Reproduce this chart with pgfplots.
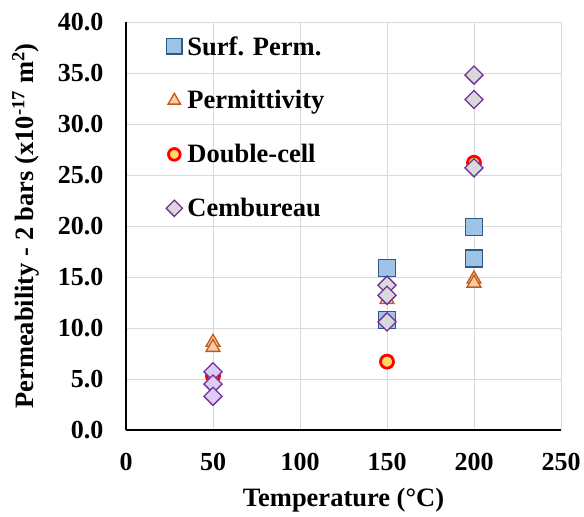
\documentclass[border=0pt]{standalone}
\usepackage{pgfplots}
\pgfplotsset{compat=1.18}
\usepackage{fontspec}
\setmainfont{Liberation Serif}
\definecolor{sqfill}{HTML}{9DC3E6}
\definecolor{sqedge}{HTML}{2E5A88}
\definecolor{trfill}{HTML}{F8CBAD}
\definecolor{tredge}{HTML}{C55A11}
\definecolor{cifill}{HTML}{FFD966}
\definecolor{ciedge}{HTML}{FF0000}
\definecolor{difill}{HTML}{D9D9D9}
\definecolor{dilav}{HTML}{DFCCF2}
\definecolor{diedge}{HTML}{7030A0}
\begin{document}
\begin{tikzpicture}
\useasboundingbox (0,0) rectangle (584pt,517pt);
\begin{axis}[
  at={(126pt,87pt)}, anchor=south west,
  scale only axis, width=435pt, height=408pt,
  xmin=0, xmax=250, ymin=0, ymax=40,
  xtick={0,50,...,250}, ytick={0,5,...,40},
  axis x line*=bottom, axis y line*=left,
  axis line style={black, line width=1.2pt, -},
  major tick length=0pt,
  grid=major, grid style={line width=1pt, color=black!15},
  /pgf/number format/assume math mode=true,
  yticklabel style={/pgf/number format/fixed, /pgf/number format/fixed zerofill, /pgf/number format/precision=1, xshift=-19pt},
  tick label style={font=\fontsize{26}{28}\selectfont\bfseries},
  xticklabel style={yshift=-20pt},
  xlabel={Temperature (°C)},
  ylabel={Permeability - 2 bars (x10\textsuperscript{-17} m\textsuperscript{2})},
  label style={font=\fontsize{26.5}{28}\selectfont\bfseries},
  xlabel style={yshift=-10pt},
  ylabel style={yshift=12pt},
  legend style={draw=none, fill=none, at={(0.085,0.975)}, anchor=north west,
    font=\fontsize{26.5}{28}\selectfont\bfseries, row sep=30pt, column sep=3pt,
    legend cell align=left},
  legend image post style={every mark/.append style={scale=0.9}},
]
\addplot[only marks, mark=square*, mark size=8.5pt, mark options={fill=sqfill, draw=sqedge, line width=1.3pt}]
  coordinates {(150,15.9) (150,10.8) (200,19.9) (200,16.8)};
\addlegendentry{Surf. Perm.}
\addplot[only marks, mark=triangle*, mark size=8pt, mark options={fill=trfill, draw=tredge, line width=1.3pt}]
  coordinates {(50,8.6) (50,8.1) (150,12.8) (200,14.8) (200,14.4)};
\addlegendentry{Permittivity}
\addplot[only marks, mark=*, mark size=6.5pt, mark options={fill=cifill, draw=ciedge, line width=2.8pt}]
  coordinates {(50,5.3) (150,6.7) (200,26.2)};
\addlegendentry{Double-cell}
\addplot[only marks, mark=square*, mark size=6.4pt, mark options={rotate=45, fill=difill, draw=diedge, line width=1.3pt}]
  coordinates {(150,14.2) (150,13.2) (150,10.6) (200,34.8) (200,32.4) (200,25.7)};
\addlegendentry{Cembureau}
\addplot[forget plot, only marks, mark=square*, mark size=6.4pt, mark options={rotate=45, fill=dilav, draw=diedge, line width=1.3pt}]
  coordinates {(50,5.7) (50,4.5) (50,3.3)};
\end{axis}
\end{tikzpicture}
\end{document}
